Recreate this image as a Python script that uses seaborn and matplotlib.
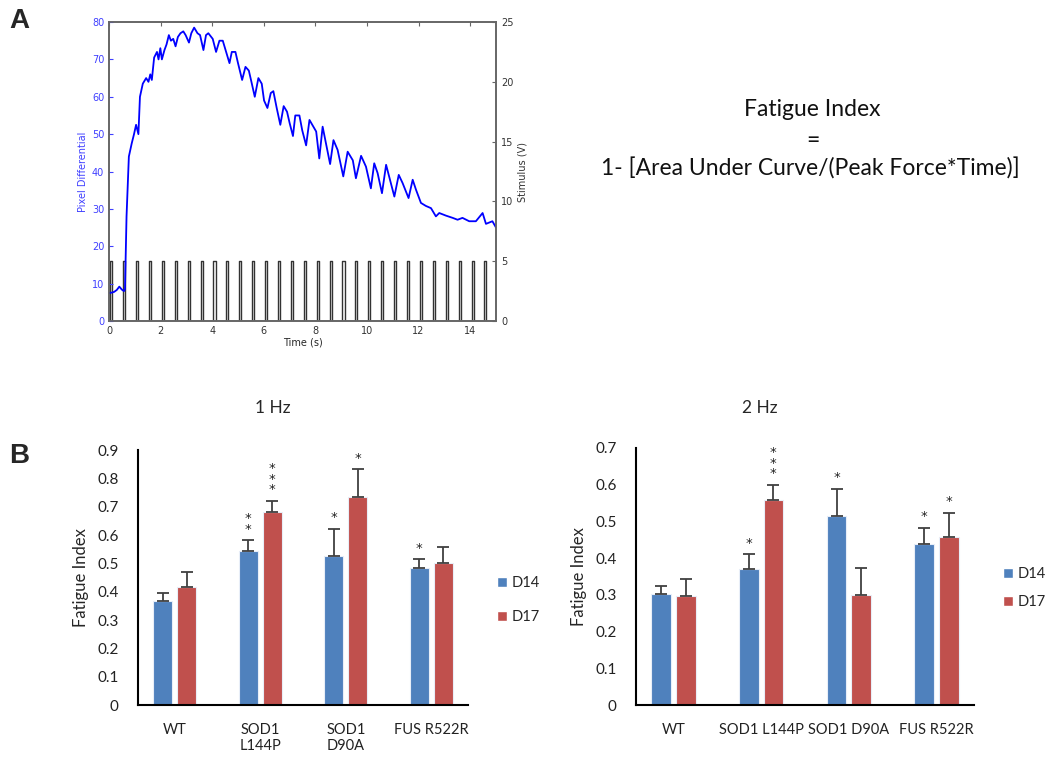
import numpy as np
import pandas as pd
import matplotlib
matplotlib.use("Agg")
import matplotlib.pyplot as plt
from matplotlib.patches import Patch
import seaborn as sns

# ---------------- panel A: force trace ----------------
trace_t = [0.0, 0.1, 0.2, 0.3, 0.4, 0.5, 0.58, 0.62, 0.68, 0.77, 0.88, 0.97, 1.05, 1.14,
           1.2, 1.31, 1.44, 1.53, 1.6, 1.66, 1.75, 1.86, 1.92, 1.99, 2.05, 2.15, 2.23,
           2.32, 2.4, 2.49, 2.58, 2.67, 2.77, 2.88, 2.97, 3.1, 3.19, 3.3, 3.43, 3.53,
           3.66, 3.76, 3.85, 4.02, 4.15, 4.28, 4.41, 4.54, 4.67, 4.76, 4.9, 5.0, 5.16,
           5.29, 5.42, 5.52, 5.65, 5.79, 5.92, 6.01, 6.14, 6.27, 6.37, 6.5, 6.64, 6.77,
           6.9, 7.0, 7.13, 7.22, 7.38, 7.49, 7.64, 7.77, 8.03, 8.15, 8.28, 8.41, 8.57,
           8.7, 8.86, 9.08, 9.25, 9.45, 9.57, 9.77, 9.96, 10.15, 10.28, 10.41, 10.58,
           10.74, 10.89, 11.06, 11.23, 11.38, 11.61, 11.77, 11.9, 12.09, 12.28, 12.48,
           12.67, 12.8, 13.06, 13.32, 13.51, 13.7, 13.96, 14.22, 14.48, 14.61, 14.86, 15.0]
trace_px = [7.5, 7.6, 7.8, 8.3, 9.2, 8.4, 8.0, 8.5, 28, 44, 47.5, 50, 52.5, 50,
            60, 63.5, 65, 64, 66, 64.5, 70.5, 72, 70, 73, 70, 72.5, 74,
            76.5, 75, 75.5, 73.5, 76, 77, 77.5, 76.5, 74.5, 77, 78.5, 77, 76.5,
            72.5, 76.5, 77, 75.5, 72, 75, 75, 72, 69, 72, 72, 69, 64.5,
            68, 67, 64, 60, 65, 63.5, 59, 57, 61, 61.5, 57, 52.5, 57.5,
            56, 53, 49.5, 55, 55, 51, 47, 53.8, 50.7, 43.5, 52, 47.5, 42,
            48.4, 45.8, 38.7, 45.3, 43, 38.2, 44.2, 41.3, 35.5, 42.2, 39.6, 34.2,
            41.8, 37.8, 33.3, 39.1, 36.9, 32.9, 37.8, 35.1, 31.6, 30.8, 30.2,
            28, 28.9, 28.2, 27.6, 27.1, 27.6, 26.7, 26.7, 28.9, 26, 26.7, 25]

# stimulus pulse onsets (s)
pulse_on = [0.05, 0.55, 1.05, 1.55, 2.05, 2.55, 3.05, 3.55, 4.05, 4.55,
            5.05, 5.55, 6.05, 6.55, 7.05, 7.55, 8.05, 8.55, 9.05, 9.55,
            10.05, 10.55, 11.05, 11.55, 12.05, 12.55, 13.05, 13.55, 14.05, 14.55]
pulse_width = 0.08
pulse_volts = 5

# ---------------- panel B: fatigue index bars ----------------
labels_1hz = ["WT", "SOD1\nL144P", "SOD1\nD90A", "FUS R522R"]
labels_2hz = ["WT", "SOD1 L144P", "SOD1 D90A", "FUS R522R"]
days = ["D14", "D17"]

fi_1hz_d14 = [0.367, 0.544, 0.527, 0.482]
fi_1hz_d17 = [0.418, 0.680, 0.735, 0.503]
err_1hz_d14 = [0.030, 0.038, 0.094, 0.032]
err_1hz_d17 = [0.053, 0.040, 0.097, 0.056]
stars_1hz_d14 = ["", "**", "*", "*"]
stars_1hz_d17 = ["", "***", "*", ""]

fi_2hz_d14 = [0.303, 0.371, 0.515, 0.438]
fi_2hz_d17 = [0.296, 0.559, 0.300, 0.458]
err_2hz_d14 = [0.022, 0.039, 0.074, 0.044]
err_2hz_d17 = [0.047, 0.041, 0.072, 0.065]
stars_2hz_d14 = ["", "*", "*", "*"]
stars_2hz_d17 = ["", "***", "", "*"]

blue = "#4F81BD"
red = "#C0504D"

sns.set_style("white")
plt.rcParams["font.family"] = ["DejaVu Sans"]

fig = plt.figure(figsize=(10.5, 7.62), dpi=100)

# ---------------- panel A ----------------
axA = fig.add_axes([0.1038, 0.5787, 0.3686, 0.3924])
sns.lineplot(x=trace_t, y=trace_px, ax=axA, color="blue", lw=1.3,
             estimator=None, sort=False)
axA.set_xlim(0, 15)
axA.set_ylim(0, 80)
axA.set_yticks(range(0, 81, 10))
axA.set_xticks(range(0, 15, 2))
axA.set_xlabel("Time (s)", fontsize=7, labelpad=1)
axA.set_ylabel("Pixel Differential", fontsize=7, color="#4040ff", labelpad=3)
axA.tick_params(axis="y", colors="#4040ff", labelsize=7, direction="in", length=3)
axA.tick_params(axis="x", labelsize=7, direction="in", length=3, top=True,
                labelcolor="#333333", color="#666666")

axS = axA.twinx()
# rectangular pulses built from the onset list
st, sv = [0.0], [0.0]
for on in pulse_on:
    st += [on, on, on + pulse_width, on + pulse_width]
    sv += [0, pulse_volts, pulse_volts, 0]
st.append(15.0)
sv.append(0)
axS.plot(st, sv, color="#333333", lw=1.0)
axS.set_ylim(0, 25)
axS.set_yticks(range(0, 26, 5))
axS.set_ylabel("Stimulus (V)", fontsize=7, color="#333333", labelpad=3)
axS.tick_params(axis="y", labelsize=7, direction="in", length=3,
                labelcolor="#333333", color="#666666")
axA.set_zorder(axS.get_zorder() + 1)
axA.patch.set_visible(False)
for ax in (axA, axS):
    for sp in ax.spines.values():
        sp.set_color("#666666")
        sp.set_linewidth(1.2)

fig.text(0.009, 0.99, "A", fontsize=20, fontweight="bold", va="top", ha="left",
         family="Liberation Sans")

# formula
ftxt = dict(ha="center", va="center", fontsize=16.5, family="Lato", color="#111111")
fig.text(0.774, 0.856, "Fatigue Index", **ftxt)
fig.text(0.774, 0.816, "=", **ftxt)
fig.text(0.772, 0.779, "1- [Area Under Curve/(Peak Force*Time)]", **ftxt)

fig.text(0.009, 0.418, "B", fontsize=20, fontweight="bold", va="top", ha="left",
         family="Liberation Sans")


def bar_panel(ax, labels, d14, d17, e14, e17, s14, s17, ymax):
    df = pd.DataFrame({"genotype": labels * 2,
                       "day": [days[0]] * 4 + [days[1]] * 4,
                       "fi": d14 + d17})
    sns.barplot(data=df, x="genotype", y="fi", hue="day", order=labels,
                hue_order=days, palette=[blue, red], saturation=1,
                width=0.56, gap=0.2, errorbar=None, legend=False,
                edgecolor="#e8eef8", linewidth=0.8, ax=ax)
    for cont, errs, stars in zip(ax.containers, [e14, e17], [s14, s17]):
        xs = [b.get_x() + b.get_width() / 2 for b in cont]
        hs = [b.get_height() for b in cont]
        ax.errorbar(xs, hs, yerr=[np.zeros(len(errs)), errs], fmt="none",
                    ecolor="#404040", elinewidth=1.3, capsize=4, capthick=1.3)
        for x, h, e, s in zip(xs, hs, errs, stars):
            if s:
                ax.text(x, h + e + ymax * 0.018, "\n".join(s), ha="center",
                        va="bottom", fontsize=9.5, linespacing=0.75, color="#222222")
    ax.set_ylim(0, ymax)
    ax.set_yticks(np.round(np.arange(0, ymax + 0.001, 0.1), 1))
    ax.yaxis.set_major_formatter(plt.FuncFormatter(
        lambda v, p: "0" if v == 0 else f"{v:.1f}"))
    ax.set_xlabel("")
    ax.set_ylabel("Fatigue Index", fontsize=12, family="Lato", labelpad=6)
    ax.tick_params(axis="both", length=0, colors="#222222")
    ax.tick_params(axis="y", pad=14, labelsize=11)
    ax.tick_params(axis="x", pad=13, labelsize=10.5)
    for lab in ax.get_xticklabels() + ax.get_yticklabels():
        lab.set_family("Lato")
    sns.despine(ax=ax)
    for sp in ("left", "bottom"):
        ax.spines[sp].set_color("black")
        ax.spines[sp].set_linewidth(1.5)


ax1 = fig.add_axes([0.1314, 0.0748, 0.3143, 0.3346])
bar_panel(ax1, labels_1hz, fi_1hz_d14, fi_1hz_d17, err_1hz_d14, err_1hz_d17,
          stars_1hz_d14, stars_1hz_d17, 0.9)
ax2 = fig.add_axes([0.6057, 0.0748, 0.3219, 0.3373])
bar_panel(ax2, labels_2hz, fi_2hz_d14, fi_2hz_d17, err_2hz_d14, err_2hz_d17,
          stars_2hz_d14, stars_2hz_d17, 0.7)

fig.text(0.26, 0.464, "1 Hz", ha="center", va="center", fontsize=12.5, family="Lato")
fig.text(0.724, 0.464, "2 Hz", ha="center", va="center", fontsize=12.5, family="Lato")

handles = [Patch(facecolor=blue, label=days[0]), Patch(facecolor=red, label=days[1])]
leg_kw = dict(frameon=False, handlelength=0.7, handleheight=0.7, handletextpad=0.3,
              borderpad=0, prop={"family": "Lato", "size": 10.5},
              bbox_transform=fig.transFigure, loc="center left")
ax1.legend(handles=handles, bbox_to_anchor=(0.466, 0.2126), labelspacing=1.4, **leg_kw)
ax2.legend(handles=handles, bbox_to_anchor=(0.948, 0.2283), labelspacing=1.0, **leg_kw)

fig.savefig("out.png", dpi=100, facecolor="white")
